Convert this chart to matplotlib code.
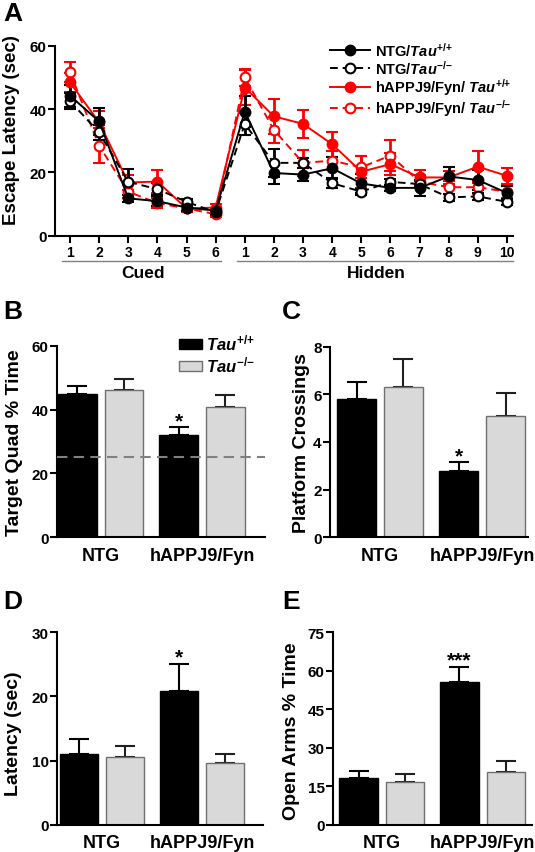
import matplotlib
matplotlib.use('Agg')
import matplotlib.pyplot as plt
import matplotlib.transforms as mtransforms

plt.rcParams['font.family'] = 'Liberation Sans'
plt.rcParams['font.weight'] = 'bold'
plt.rcParams['mathtext.fontset'] = 'custom'
plt.rcParams['mathtext.rm'] = 'Liberation Sans:bold'
plt.rcParams['mathtext.it'] = 'Liberation Sans:italic:bold'
plt.rcParams['mathtext.bf'] = 'Liberation Sans:bold'
plt.rcParams['axes.linewidth'] = 1.5

# ---- data: panel A (water maze, escape latency) ----
day_labels = ['1', '2', '3', '4', '5', '6',
              '1', '2', '3', '4', '5', '6', '7', '8', '9', '10']
ntg_wt = [44.2, 36.1, 11.8, 10.9, 8.9, 7.9, 39.2, 19.8, 19.3, 21.3, 16.5, 15.1, 15.1, 18.7, 17.6, 13.5]
ntg_wt_err = [3.5, 4.2, 1.0, 1.5, 1.0, 1.0, 4.8, 3.5, 2.0, 3.5, 3.0, 1.0, 2.5, 3.0, 3.2, 2.2]
ntg_ko = [42.5, 32.6, 17.0, 14.7, 10.7, 7.4, 35.3, 23.0, 23.0, 16.6, 13.9, 17.0, 16.3, 12.1, 12.4, 10.7]
ntg_ko_err = [2.5, 2.5, 4.0, 2.0, 1.0, 1.0, 3.5, 4.5, 1.5, 1.5, 1.0, 1.0, 1.0, 1.0, 1.0, 1.0]
app_wt = [48.4, 35.8, 16.8, 17.1, 8.6, 8.9, 46.8, 37.7, 35.3, 28.9, 20.2, 22.6, 18.4, 18.4, 21.8, 18.9]
app_wt_err = [3.0, 3.5, 2.5, 3.5, 1.0, 1.0, 5.5, 5.5, 4.5, 4.0, 5.0, 3.5, 2.5, 2.0, 5.0, 2.5]
app_ko = [51.6, 28.4, 13.9, 10.3, 8.6, 6.8, 50.0, 33.4, 23.0, 23.7, 21.6, 25.3, 17.1, 15.3, 15.3, 13.9]
app_ko_err = [3.2, 5.5, 2.0, 1.5, 1.0, 1.0, 2.7, 4.0, 4.0, 3.0, 3.5, 5.0, 2.0, 2.0, 2.0, 2.0]
phases = ['Cued', 'Hidden']
phase_len = [6, 10]

# ---- data: bar panels (order: NTG, hAPPJ9/Fyn) ----
groups = ['NTG', 'hAPPJ9/Fyn']
quad_wt, quad_wt_err = [45.0, 32.0], [2.5, 2.5]
quad_ko, quad_ko_err = [46.0, 40.7], [3.5, 3.8]
cross_wt, cross_wt_err = [5.8, 2.8], [0.7, 0.35]
cross_ko, cross_ko_err = [6.3, 5.1], [1.2, 0.95]
lat_wt, lat_wt_err = [11.1, 20.8], [2.3, 4.3]
lat_ko, lat_ko_err = [10.6, 9.6], [1.6, 1.4]
arms_wt, arms_wt_err = [18.2, 55.5], [2.6, 6.0]
arms_ko, arms_ko_err = [16.5, 20.5], [3.3, 4.2]

W, H = 535, 853
fig = plt.figure(figsize=(W / 100, H / 100), dpi=100)


def px_axes(l, t, r, b):
    return fig.add_axes([l / W, 1 - b / H, (r - l) / W, (b - t) / H])


def style_axes(ax, tick_size=11):
    ax.spines['top'].set_visible(False)
    ax.spines['right'].set_visible(False)
    ax.tick_params(axis='y', direction='out', length=5, width=1.5, labelsize=tick_size, pad=1)
    for t in ax.get_yticklabels():
        t.set_fontweight('bold')


def set_ylabel(ax, text, size, xy):
    ax.set_ylabel(text, fontsize=size, fontweight='bold', va='center')
    ax.yaxis.set_label_coords(*xy)


# ---- panel A ----
axA = px_axes(55, 46.7, 513, 236.7)
x = list(range(len(day_labels)))
lab_ntg_wt = r'NTG/$\mathit{Tau}^{{+}/{+}}$'
lab_ntg_ko = r'NTG/$\mathit{Tau}^{{-}/{-}}$'
lab_app_wt = r'hAPPJ9/Fyn/ $\mathit{Tau}^{{+}/{+}}$'
lab_app_ko = r'hAPPJ9/Fyn/ $\mathit{Tau}^{{-}/{-}}$'
series = [
    (app_ko, app_ko_err, 'red', 'white', '--', lab_app_ko),
    (app_wt, app_wt_err, 'red', 'red', '-', lab_app_wt),
    (ntg_ko, ntg_ko_err, 'black', 'white', '--', lab_ntg_ko),
    (ntg_wt, ntg_wt_err, 'black', 'black', '-', lab_ntg_wt),
]
handles = {}
for vals, err, col, face, ls, lab in series:
    eb = axA.errorbar(x, vals, yerr=err, color=col, ls=ls, lw=1.4, marker='o', ms=7,
                      mfc=face, mec=col, mew=1.5, elinewidth=2, capsize=4, capthick=2,
                      dashes=(4, 2.5) if ls == '--' else (None, None))
    handles[lab] = eb[0]
order = [lab_ntg_wt, lab_ntg_ko, lab_app_wt, lab_app_ko]
axA.legend([handles[k] for k in order], order, loc='upper left',
           bbox_to_anchor=(0.585, 1.065), frameon=False, fontsize=10.5,
           handlelength=2.7, handletextpad=0.4, labelspacing=0.0, borderpad=0)
axA.set_xlim(-0.515, 15.21)
axA.set_ylim(0, 60)
axA.set_yticks([0, 20, 40, 60])
axA.set_xticks(x)
axA.set_xticklabels(day_labels, fontsize=10, fontweight='bold')
axA.tick_params(axis='x', direction='out', length=5, width=1.5, pad=2)
style_axes(axA)
set_ylabel(axA, 'Escape Latency (sec)', 13.5, (-0.094, 0.56))

trans = mtransforms.blended_transform_factory(axA.transData, axA.transAxes)
start = 0
for name, n in zip(phases, phase_len):
    axA.plot([start - 0.28, start + n - 1 + 0.2], [-0.133, -0.133], color='#808080',
             lw=1, transform=trans, clip_on=False)
    axA.text(start + (n - 1) / 2, -0.195, name, transform=trans, ha='center', va='center',
             fontsize=12.5, fontweight='bold')
    start += n

# ---- bar panels ----
off, bw = 0.23, 0.38


def bar_panel(rect, xlim, wt, wt_err, ko, ko_err, ylim, yticks, ylabel, lab_xy, star=None, legend=False):
    ax = px_axes(*rect)
    gx = list(range(len(groups)))
    b1 = ax.bar([g - off for g in gx], wt, bw, color='black', edgecolor='black', lw=1, zorder=2)
    b2 = ax.bar([g + off for g in gx], ko, bw, color='#d9d9d9', edgecolor='#707070', lw=1, zorder=2)
    ax.errorbar([g - off for g in gx], wt, yerr=[[0] * len(wt), wt_err], fmt='none',
                ecolor='black', elinewidth=1.5, capsize=7, capthick=1.5, zorder=1)
    ax.errorbar([g + off for g in gx], ko, yerr=[[0] * len(ko), ko_err], fmt='none',
                ecolor='#202020', elinewidth=1.5, capsize=7, capthick=1.5, zorder=1)
    if star is not None:
        i, s = star
        ax.annotate(s, (i - off, wt[i] + wt_err[i]), xytext=(0, -2), textcoords='offset points',
                    ha='center', va='bottom', fontsize=15, fontweight='bold')
    ax.set_xlim(*xlim)
    ax.set_ylim(*ylim)
    ax.set_yticks(yticks)
    ax.set_xticks(gx)
    ax.set_xticklabels(groups, fontsize=13, fontweight='bold')
    ax.tick_params(axis='x', length=0, pad=7)
    style_axes(ax)
    set_ylabel(ax, ylabel, 14, lab_xy)
    if legend:
        ax.legend([b1, b2], [r'$\mathit{Tau}^{{+}/{+}}$', r'$\mathit{Tau}^{{-}/{-}}$'],
                  loc='upper left', bbox_to_anchor=(0.545, 1.11), frameon=False, fontsize=12,
                  handlelength=1.4, handleheight=0.55, handletextpad=0.25,
                  labelspacing=0.1, borderpad=0)
    return ax


axB = bar_panel((57, 346.7, 265, 538.3), (-0.43, 1.62), quad_wt, quad_wt_err, quad_ko, quad_ko_err,
                (0, 60), [0, 20, 40, 60], 'Target Quad % Time', (-0.202, 0.5), star=(1, '*'), legend=True)
axB.axhline(25, color='#808080', lw=1.5, ls=(0, (5, 3)), zorder=3)
bar_panel((330, 347.7, 528, 538.3), (-0.49, 1.45), cross_wt, cross_wt_err, cross_ko, cross_ko_err,
          (0, 8), [0, 2, 4, 6, 8], 'Platform Crossings', (-0.146, 0.5), star=(1, '*'))
bar_panel((57, 633.3, 263, 825.7), (-0.45, 1.61), lat_wt, lat_wt_err, lat_ko, lat_ko_err,
          (0, 30), [0, 10, 20, 30], 'Latency (sec)', (-0.211, 0.48), star=(1, '*'))
bar_panel((333, 633.3, 532, 825.7), (-0.484, 1.49), arms_wt, arms_wt_err, arms_ko, arms_ko_err,
          (0, 75), [0, 15, 30, 45, 60, 75], 'Open Arms % Time', (-0.209, 0.49), star=(1, '***'))

# panel letters
for lab, (px, py) in zip('ABCDE', [(3, 2), (3, 300), (282, 300), (3, 590), (282, 590)]):
    fig.text(px / W, 1 - py / H, lab, fontsize=19, fontweight='bold', va='top', ha='left')

fig.savefig('out.png', dpi=100)
